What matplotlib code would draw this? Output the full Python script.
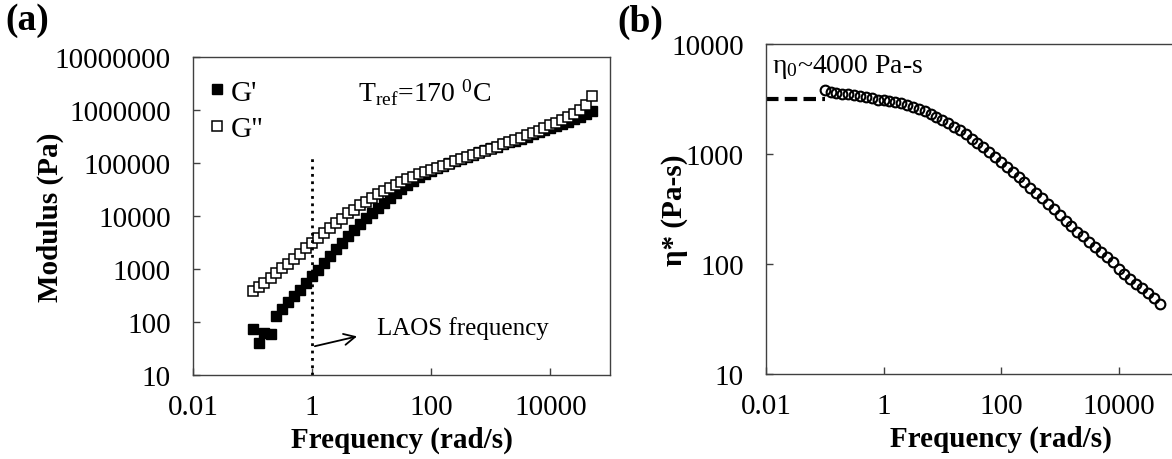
import matplotlib
matplotlib.use("Agg")
import matplotlib.pyplot as plt

plt.rcParams['font.family'] = ['Liberation Serif', 'DejaVu Serif']
plt.rcParams['mathtext.fontset'] = 'custom'
plt.rcParams['mathtext.rm'] = 'Liberation Serif'
plt.rcParams['mathtext.it'] = 'Liberation Serif:italic'
plt.rcParams['mathtext.bf'] = 'Liberation Serif:bold'

# frequency (rad/s), shared by both panels
freq = [0.1, 0.126, 0.158, 0.2, 0.251, 0.316, 0.398, 0.501, 0.631, 0.794,
        1.0, 1.26, 1.58, 2.0, 2.51, 3.16, 3.98, 5.01, 6.31, 7.94,
        10, 12.6, 15.8, 20, 25.1, 31.6, 39.8, 50.1, 63.1, 79.4,
        100, 126, 158, 200, 251, 316, 398, 501, 631, 794,
        1000, 1260, 1580, 2000, 2510, 3160, 3980, 5010, 6310, 7940,
        10000, 12600, 15800, 20000, 25100, 31600, 39800, 50100]

# storage modulus G' (Pa)
g_storage = [74, 40, 62, 59, 129, 174, 234, 309, 407, 550,
             741, 977, 1318, 1738, 2344, 3090, 4169, 5495, 7079, 9120,
             11480, 14450, 17780, 21880, 26920, 32360, 38900, 45710, 53700, 61660,
             70790, 79430, 89130, 100000, 109600, 120200, 131800, 144500, 158500, 173800,
             190500, 204200, 223900, 245500, 263000, 288400, 316200, 346700, 380200, 416900,
             457100, 501200, 549500, 602600, 676100, 741300, 831800, 955000]

# loss modulus G'' (Pa)
g_loss = [380, 457, 550, 676, 832, 1023, 1259, 1549, 1905, 2512,
          3162, 3890, 4786, 5888, 7244, 8913, 11220, 13180, 15850, 18620,
          21880, 25700, 29510, 33880, 38900, 43650, 48980, 54950, 61660, 67610,
          74130, 81280, 89130, 97720, 107200, 117500, 128800, 141300, 154900, 169800,
          186200, 204200, 223900, 245500, 269200, 295100, 331100, 363100, 407400, 457100,
          512900, 575400, 645700, 741300, 851100, 1000000, 1230000, 1820000]

# complex viscosity (Pa-s)
eta = [3802, 3631, 3589, 3548, 3508, 3428, 3350, 3273, 3199, 3126,
       3090, 3020, 2951, 2884, 2786, 2692, 2570, 2455, 2291, 2163,
       2042, 1905, 1778, 1641, 1514, 1380, 1259, 1148, 1047, 944,
       851, 767, 692, 617, 556, 495, 442, 394, 351, 313,
       279, 248, 221, 197, 178, 158, 143, 129, 116, 105,
       91, 81, 73, 66, 60, 54, 49, 43]

eta0 = 3160
eta0_freq = [0.01, 0.1]
laos_freq = 1.0

W, H = 1172, 460
fig = plt.figure(figsize=(W / 100, H / 100), dpi=100)

ax1 = fig.add_axes([193 / W, 1 - 376 / H, 417 / W, 318 / H])
ax2 = fig.add_axes([766 / W, 1 - 375 / H, 470 / W, 330 / H])

spine_col = '#404040'
for ax in (ax1, ax2):
    ax.set_xscale('log')
    ax.set_yscale('log')
    for s in ax.spines.values():
        s.set_color(spine_col)
        s.set_linewidth(1.0)
    ax.tick_params(which='major', direction='in', length=5, width=1.0,
                   color=spine_col, labelsize=21)
    ax.tick_params(axis='y', pad=16)
    ax.tick_params(axis='x', pad=14)
    ax.minorticks_off()

# ---- panel (a)
ax1.plot(freq, g_storage, 's', ms=7.5, mfc='black', mec='black', mew=1.0, label="G'")
ax1.plot(freq, g_loss, 's', ms=7.5, mfc='white', mec='black', mew=1.1, label='G"')
ax1.plot([laos_freq, laos_freq], [10, 135000], ':', color='black', lw=2.0)

ax1.set_xlim(0.01, 100000)
ax1.set_ylim(10, 10000000)
ax1.set_xticks([0.01, 1, 100, 10000])
ax1.set_xticklabels(['0.01', '1', '100', '10000'])
yt = [10, 100, 1000, 10000, 100000, 1000000, 10000000]
ax1.set_yticks(yt)
ax1.set_yticklabels([str(v) for v in yt])

ax1.set_xlabel('Frequency (rad/s)', fontsize=21, fontweight='bold')
ax1.set_ylabel('Modulus (Pa)', fontsize=21, fontweight='bold')
ax1.xaxis.set_label_coords(0.5, -0.16)
ax1.yaxis.set_label_coords(-0.31, 0.5)

ax1.legend(loc='upper left', bbox_to_anchor=(0.03, 0.93), frameon=False,
           fontsize=21, handletextpad=0.05, labelspacing=0.35,
           borderaxespad=0, borderpad=0, handlelength=0.8)
ax1.text(5.9, 2.2e6, r'T$_{\mathrm{ref}}$=170 $^{0}$C', fontsize=20, va='center')
ax1.annotate('', xy=(6.3, 55), xytext=(laos_freq, 34),
             arrowprops=dict(arrowstyle='->', color='black', lw=1.3, mutation_scale=20))
ax1.text(12.3, 80, 'LAOS frequency', fontsize=18, va='center')

fig.text(5 / W, 1 - 20 / H, '(a)', fontsize=27, fontweight='bold', va='center')

# ---- panel (b)
ax2.plot(freq, eta, 'o', ms=7, mfc='none', mec='black', mew=1.5)
ax2.plot(eta0_freq, [eta0, eta0], '--', color='black', lw=3.0, dashes=(3, 1.5))

ax2.set_xlim(0.01, 1000000)
ax2.set_ylim(10, 10000)
ax2.set_xticks([0.01, 1, 100, 10000])
ax2.set_xticklabels(['0.01', '1', '100', '10000'])
ax2.set_yticks([10, 100, 1000, 10000])
ax2.set_yticklabels(['10', '100', '1000', '10000'])

ax2.set_xlabel('Frequency (rad/s)', fontsize=21, fontweight='bold')
ax2.set_ylabel('η* (Pa-s)', fontsize=21, fontweight='bold')
ax2.xaxis.set_label_coords(0.5, -0.155)
ax2.yaxis.set_label_coords(-0.165, 0.5)

ax2.text(0.0125, 6300, 'η$_0$~4000 Pa-s', fontsize=20, va='center')

fig.text(617 / W, 1 - 22 / H, '(b)', fontsize=27, fontweight='bold', va='center')

fig.savefig('out.png', dpi=100)
